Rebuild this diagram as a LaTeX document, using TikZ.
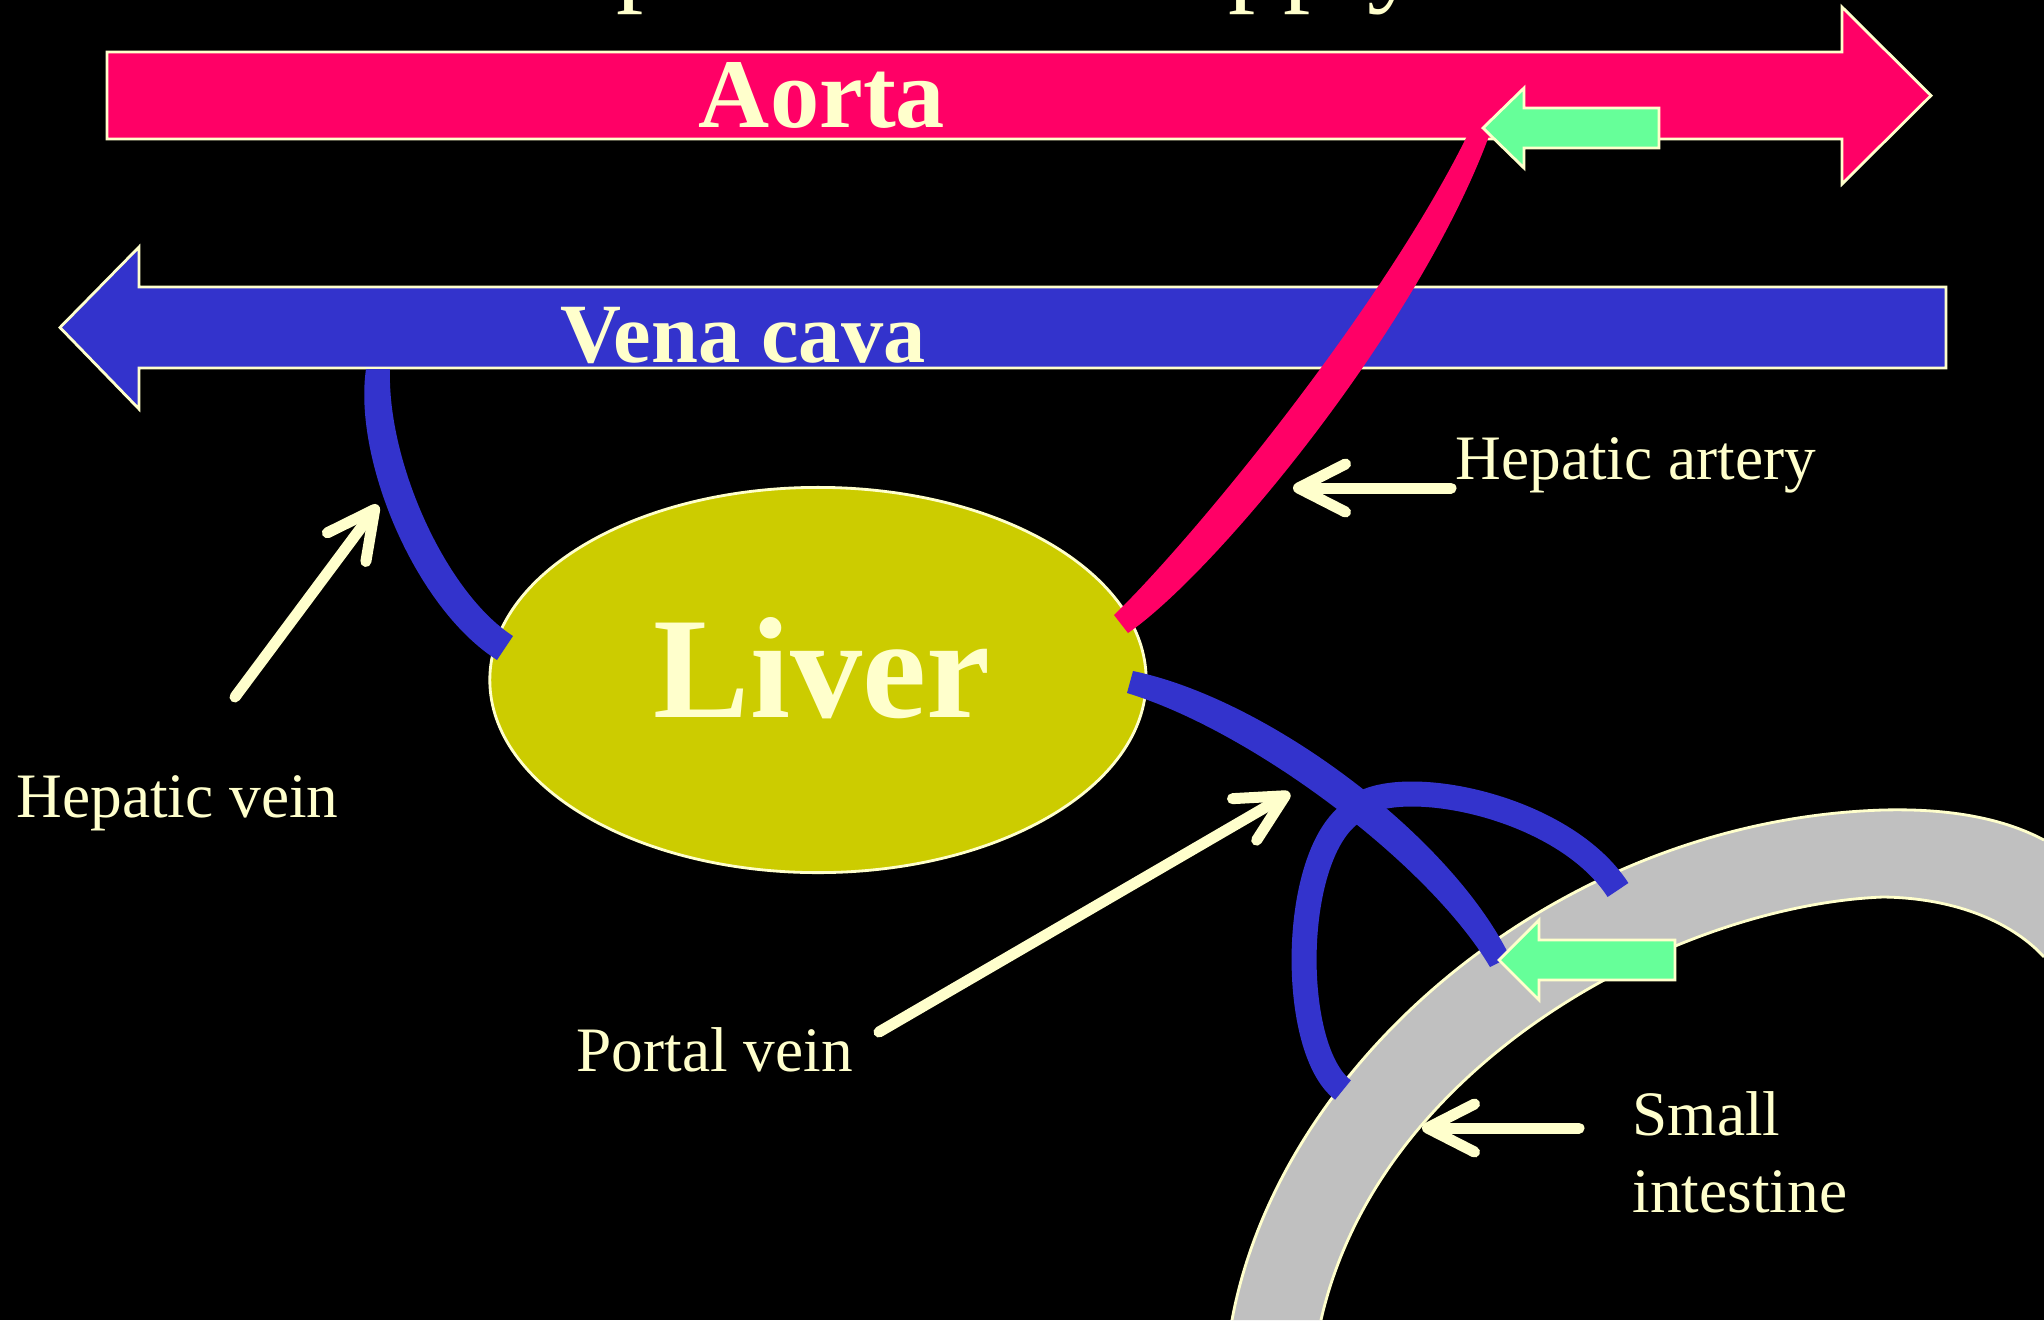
\documentclass[tikz,border=0pt]{standalone}
\usepackage{fontspec}
\setmainfont{Liberation Serif}
\usetikzlibrary{arrows.meta,shapes.geometric}
\definecolor{aortapink}{HTML}{FF0066}
\definecolor{veinblue}{HTML}{3333CC}
\definecolor{liveryellow}{HTML}{CCCC00}
\definecolor{flowgreen}{HTML}{66FF99}
\definecolor{labelcream}{HTML}{FFFFCC}
\definecolor{gutgray}{HTML}{C0C0C0}

\begin{document}
\begin{tikzpicture}[x=0.01cm,y=-0.01cm,
    pointer/.style={labelcream,line width=1.1mm,line cap=round,-{Straight Barb[length=4.7mm,width=4.8mm,round]}},
    vessel/.style={line width=2.5mm},
    outlined/.style={draw=labelcream,line width=0.8pt},
    lbl/.style={text=labelcream,font=\fontsize{18}{22}\selectfont,inner sep=0pt,anchor=base west}]
    \fill[black] (0,0) rectangle (2044,1320);
    \useasboundingbox (0,0) rectangle (2044,1320);
    % title line, cut off by the top edge
    \begin{scope}
      \clip (0,0) rectangle (2044,60);
      \node[anchor=base west,inner sep=0pt,text=labelcream,font=\fontsize{31}{36}\selectfont] (title) at (489,-9) {Hepatic blood supply};
    \end{scope}
    % small intestine
    \fill[gutgray] (1232,1320) .. controls (1280,1060) and (1560,820) .. (1883,810) .. controls (1960,808) and (2010,822) .. (2044,840)
      -- (2044,957) .. controls (2015,925) and (1960,898) .. (1883,897) .. controls (1680,905) and (1380,1060) .. (1321,1320) -- cycle;
    \draw[labelcream,line width=0.8pt] (1232,1320) .. controls (1280,1060) and (1560,820) .. (1883,810) .. controls (1960,808) and (2010,822) .. (2044,840);
    \draw[labelcream,line width=0.8pt] (2044,957) .. controls (2015,925) and (1960,898) .. (1883,897) .. controls (1680,905) and (1380,1060) .. (1321,1320);
    % aorta and vena cava
    \filldraw[fill=aortapink,outlined] (107,52) -- (1842,52) -- (1842,7) -- (1931,95.5) -- (1842,184) -- (1842,139) -- (107,139) -- cycle;
    \node[anchor=base,text=labelcream,font=\bfseries\fontsize{28}{32}\selectfont] (aorta) at (822,127) {Aorta};
    \filldraw[fill=veinblue,outlined] (1946,287) -- (139,287) -- (139,247) -- (60,327.5) -- (139,409) -- (139,368) -- (1946,368) -- cycle;
    \node[anchor=base,text=labelcream,font=\bfseries\fontsize{24}{28}\selectfont] (vena) at (743,362) {Vena cava};
    % liver
    \node[ellipse,fill=liveryellow,outlined,minimum width=6.56cm,minimum height=3.85cm] (liver) at (818,680) {};
    \node[anchor=base,text=labelcream,font=\bfseries\fontsize{41}{46}\selectfont] (liverText) at (822,717) {Liver};
    % hepatic vein, hepatic artery and portal vein (tapered)
    \fill[veinblue] (390,369) .. controls (387,462) and (446,593) .. (513,636) -- (497,660) .. controls (414,607) and (353,458) .. (366,369) -- cycle;
    \fill[aortapink] (1128,633) .. controls (1214,574) and (1417,330) .. (1489,136) -- (1471,128) .. controls (1383,310) and (1186,546) .. (1114,615) -- cycle;
    \coordinate (pvFork) at (1350,814);
    \coordinate (arcEnd) at (1618,890);
    \coordinate (loopEnd) at (1343,1090);
    \draw[vessel,veinblue] (pvFork) .. controls (1380,770) and (1560,800) .. (arcEnd);
    \draw[vessel,veinblue] (pvFork) .. controls (1290,860) and (1290,1050) .. (loopEnd);
    \fill[veinblue] (1133,671) .. controls (1268,699) and (1451,836) .. (1510,957) -- (1490,967) .. controls (1429,864) and (1252,731) .. (1127,693) -- cycle;
    % green flow arrows
    \filldraw[fill=flowgreen,outlined] (1483,128) -- (1524,88) -- (1524,108) -- (1659,108) -- (1659,148) -- (1524,148) -- (1524,168) -- cycle;
    \filldraw[fill=flowgreen,outlined] (1499,960) -- (1539,920) -- (1539,940) -- (1675,940) -- (1675,980) -- (1539,980) -- (1539,1000) -- cycle;
    % labels
    \node[lbl] (arteryLabel) at (1455,479) {Hepatic artery};
    \node[lbl] (hepVeinLabel) at (16,817) {Hepatic vein};
    \node[lbl] (portalLabel) at (576,1071) {Portal vein};
    \node[lbl] (smallLabel) at (1632,1135) {Small};
    \node[lbl] (intestineLabel) at (1632,1212) {intestine};
    % pointers
    \coordinate (hvFrom) at (235,697);
    \coordinate (hvTo) at (378,505);
    \coordinate (haFrom) at (1451,488);
    \coordinate (haTo) at (1293,488);
    \coordinate (pvFrom) at (879,1032);
    \coordinate (pvTo) at (1290,793);
    \coordinate (gutFrom) at (1579,1128);
    \coordinate (gutTo) at (1422,1128);
    \draw[pointer] (hvFrom) -- (hvTo);
    \draw[pointer] (haFrom) -- (haTo);
    \draw[pointer] (pvFrom) -- (pvTo);
    \draw[pointer] (gutFrom) -- (gutTo);
\end{tikzpicture}
\end{document}
